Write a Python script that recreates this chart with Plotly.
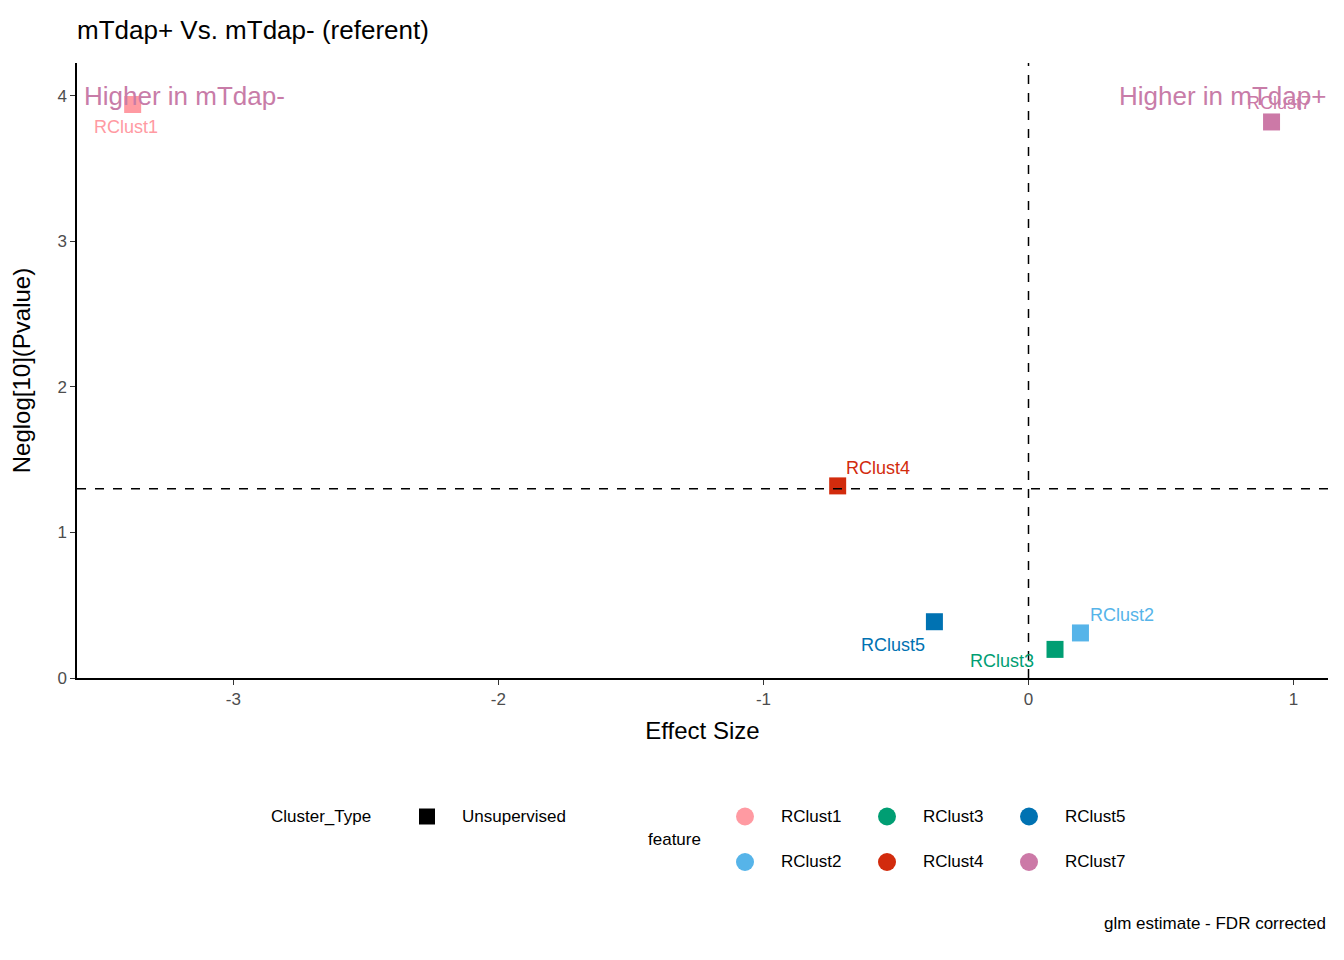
import plotly.graph_objects as go

# cluster results
features = ['RClust1', 'RClust2', 'RClust3', 'RClust4', 'RClust5', 'RClust7']
effect_size = [-3.38, 0.196, 0.10, -0.72, -0.355, 0.917]
neglog_p = [3.94, 0.31, 0.197, 1.32, 0.387, 3.82]
x_ticks = [-3, -2, -1, 0, 1]
y_ticks = [0, 1, 2, 3, 4]
colors = {'RClust1': '#FF9AA2', 'RClust2': '#56B4E9', 'RClust3': '#009E73',
          'RClust4': '#D22B0D', 'RClust5': '#0072B2', 'RClust7': '#CC79A7'}
# label offsets in px (dx, dy) relative to each point
label_shift = {'RClust1': (-7, -23), 'RClust2': (42, 18), 'RClust3': (-53, -12),
               'RClust4': (40, 18), 'RClust5': (-41, -23), 'RClust7': (7, 19)}

font = 'Liberation Sans, Arial'
fig = go.Figure()

for f, x, y in zip(features, effect_size, neglog_p):
    fig.add_trace(go.Scatter(x=[x], y=[y], mode='markers', showlegend=False,
                             marker=dict(symbol='square', size=17, color=colors[f])))
    dx, dy = label_shift[f]
    fig.add_annotation(x=x, y=y, text=f, showarrow=False, xshift=dx, yshift=dy,
                       font=dict(size=18, color=colors[f], family=font))

# manual legend on hidden axis (pixel-like units)
leg_x = [745, 745, 887, 887, 1029, 1029]
leg_y = [825, 871, 825, 871, 825, 871]
fig.add_trace(go.Scatter(x=leg_x, y=leg_y, mode='markers', xaxis='x2', yaxis='y2',
                         showlegend=False, hoverinfo='skip',
                         marker=dict(size=18, color=[colors[f] for f in features])))
fig.add_trace(go.Scatter(x=[427], y=[825], mode='markers', xaxis='x2', yaxis='y2',
                         showlegend=False, hoverinfo='skip',
                         marker=dict(symbol='square', size=16, color='black')))
leg_font = dict(size=17, color='black', family=font)
for f, x, y in zip(features, leg_x, leg_y):
    fig.add_annotation(x=x + 34, y=y, xref='x2', yref='y2', text=f, showarrow=False,
                       xanchor='left', font=leg_font)
fig.add_annotation(x=460, y=825, xref='x2', yref='y2', text='Unsupervised', showarrow=False,
                   xanchor='left', font=leg_font)
fig.add_annotation(x=269, y=825, xref='x2', yref='y2', text='Cluster_Type', showarrow=False,
                   xanchor='left', font=leg_font)
fig.add_annotation(x=646, y=848, xref='x2', yref='y2', text='feature', showarrow=False,
                   xanchor='left', font=leg_font)
fig.add_annotation(x=1328, y=933, xref='x2', yref='y2', text='glm estimate - FDR corrected',
                   showarrow=False, xanchor='right', font=leg_font)

# quadrant labels
fig.add_annotation(x=-3.59, y=4.0, text='Higher in mTdap-', showarrow=False, xanchor='left',
                   xshift=5, font=dict(size=26, color='#C87CA8', family=font))
fig.add_annotation(x=1.13, y=4.0, text='Higher in mTdap+', showarrow=False, xanchor='right',
                   font=dict(size=26, color='#C87CA8', family=font))

fig.add_hline(y=1.30103, line=dict(color='black', dash='dash', width=1.5))
fig.add_vline(x=0, line=dict(color='black', dash='dash', width=1.5))

tick_font = dict(size=17, color='#4d4d4d')
fig.update_layout(
    width=1344, height=960, plot_bgcolor='white', paper_bgcolor='white',
    margin=dict(l=69, r=24, t=55, b=8),
    font=dict(family=font, color='black'),
    title=dict(text='mTdap+ Vs. mTdap- (referent)', x=69/1344, xanchor='left',
               y=1 - 22/960, yanchor='middle', font=dict(size=26, color='black')),
    xaxis=dict(range=[-3.59, 1.13], tickvals=x_ticks, ticktext=[str(v) for v in x_ticks],
               showgrid=False, zeroline=False,
               showline=True, linecolor='black', linewidth=1.5, ticks='outside', ticklen=5,
               tickcolor='#333', tickfont=tick_font,
               title=dict(text='Effect Size', font=dict(size=24), standoff=14), anchor='y'),
    yaxis=dict(range=[0, 4.225], domain=[275/897, 1], tickvals=y_ticks, showgrid=False,
               zeroline=False, showline=True, linecolor='black', linewidth=1.5, ticks='outside',
               ticklen=5, tickcolor='#333', tickfont=tick_font,
               title=dict(text='Neglog[10](Pvalue)', font=dict(size=24), standoff=20)),
    xaxis2=dict(range=[77, 1328], domain=[0, 1], visible=False, anchor='y2'),
    yaxis2=dict(range=[960, 685], domain=[0, 275/897], visible=False, anchor='x2'),
)

fig.write_html('out.html')
